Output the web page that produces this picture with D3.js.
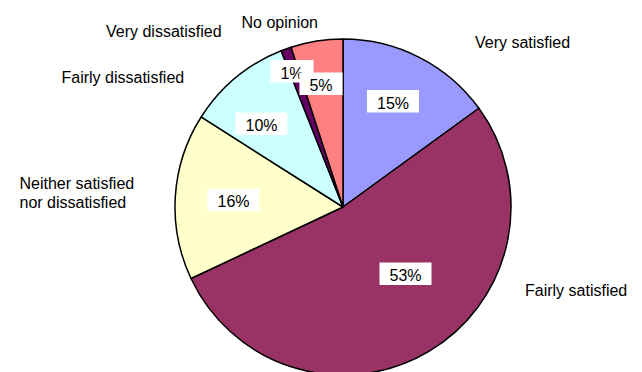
<!DOCTYPE html>
<html>
<head>
<meta charset="utf-8">
<script src="https://cdn.jsdelivr.net/npm/d3@7"></script>
<style>
  html, body { margin: 0; padding: 0; background: #fff; }
  svg { display: block; }
  text { font-family: "Liberation Sans", Arial, sans-serif; fill: #000; }
</style>
</head>
<body>
<svg id="chart" width="642" height="372"></svg>
<script>
// ---- data ----
const categories = ["Very satisfied", "Fairly satisfied", "Neither satisfied nor dissatisfied",
                    "Fairly dissatisfied", "Very dissatisfied", "No opinion"];
const values = [15, 53, 16, 10, 1, 5];
const valueLabels = ["15%", "53%", "16%", "10%", "1%", "5%"];

// ---- layout / style (not data) ----
const colors = ["#9999FF", "#993366", "#FFFFCC", "#CCFFFF", "#660066", "#FF8080"];
const cx = 343, cy = 207, R = 168;
const fontSize = 16;
// percent label box centres
const pctPos = [[393, 101], [405.5, 273.5], [233.5, 199.5], [261.5, 123.5], [292, 71], [321, 83.5]];
// category label anchors (x, baseline) and line split
const catPos = [[475, 47.5], [525, 295.5], [19.5, 188.5], [61.5, 82.5], [106, 36.5], [241.5, 27.5]];
const catLines = [["Very satisfied"], ["Fairly satisfied"], ["Neither satisfied", "nor dissatisfied"],
                  ["Fairly dissatisfied"], ["Very dissatisfied"], ["No opinion"]];

const svg = d3.select("#chart");
const g = svg.append("g").attr("transform", `translate(${cx},${cy})`);

const pie = d3.pie().sort(null).value(d => d)(values);
const arc = d3.arc().innerRadius(0).outerRadius(R);

g.selectAll("path.slice")
  .data(pie)
  .join("path")
  .attr("class", "slice")
  .attr("d", arc)
  .attr("fill", (d, i) => colors[i])
  .attr("stroke", "#000")
  .attr("stroke-width", 1.5)
  .attr("stroke-linejoin", "round");

// percentage labels with white boxes
const pl = svg.selectAll("g.pct")
  .data(valueLabels)
  .join("g")
  .attr("class", "pct")
  .attr("transform", (d, i) => `translate(${pctPos[i][0]},${pctPos[i][1]})`);

pl.each(function(d) {
  const sel = d3.select(this);
  const t = sel.append("text")
    .attr("text-anchor", "middle")
    .attr("y", 7.5)
    .style("font-size", fontSize + "px")
    .text(d);
  const w = t.node().getComputedTextLength();
  sel.insert("rect", "text")
    .attr("x", -w / 2 - 10)
    .attr("y", -11)
    .attr("width", w + 20)
    .attr("height", 22.5)
    .attr("fill", "#fff");
});

// category labels
svg.selectAll("text.cat")
  .data(categories)
  .join("text")
  .attr("class", "cat")
  .style("font-size", fontSize + "px")
  .attr("x", (d, i) => catPos[i][0])
  .attr("y", (d, i) => catPos[i][1])
  .each(function(d, i) {
    const sel = d3.select(this);
    catLines[i].forEach((line, j) => {
      sel.append("tspan")
        .attr("x", catPos[i][0])
        .attr("dy", j === 0 ? 0 : 19)
        .text(line);
    });
  });
</script>
</body>
</html>
